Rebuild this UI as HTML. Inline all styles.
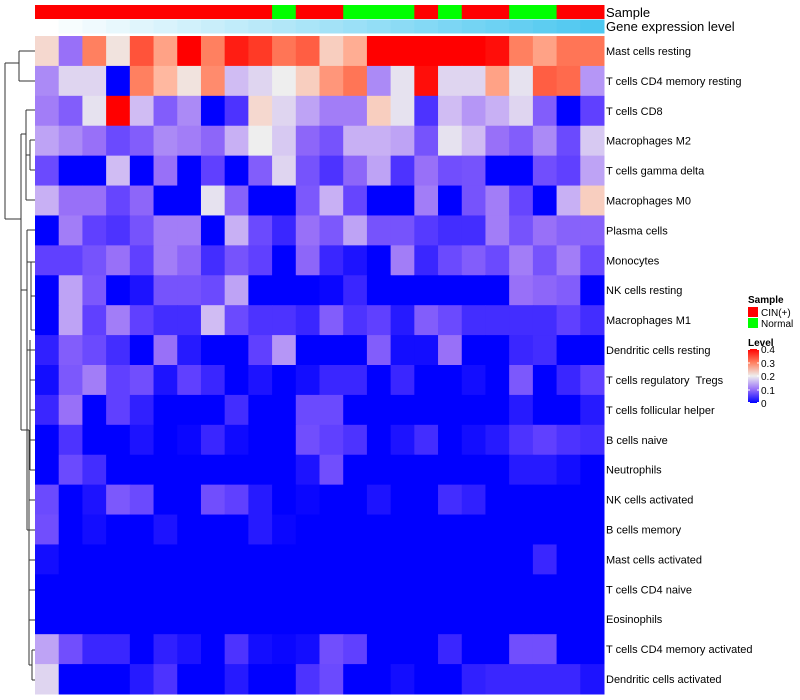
<!DOCTYPE html>
<html><head><meta charset="utf-8"><style>
body{margin:0;background:#fff;font-family:"Liberation Sans",sans-serif}
svg{display:block}
#labels text{white-space:pre}
</style></head><body>
<svg id="chart" width="800" height="700" xmlns="http://www.w3.org/2000/svg">
<g id="dendro" stroke="#333" stroke-width="1" fill="none">
<path d="M5,63V219M5,63H19M19,51V81M19,51H35M19,81H35M5,219H21M21,134V430"/>
<path d="M21,134H26M26,110V200M26,110H35M26,155H30M30,140V170M30,140H35M30,170H35M26,200H35"/>
<path d="M21,290H27M27,230V530M27,230H35M27,262H31M31,262V330M31,262H35M31,296H35M31,330H35"/>
<path d="M27,350H30M30,340V470M30,350H35M30,380H35M30,410H35M30,440H35M30,470H35"/>
<path d="M27,530H29M29,500V620M29,500H35M29,530H35M29,560H35M29,590H35M29,620H35"/>
<path d="M21,430H29M29,430V665M29,665H32M32,650V680M32,650H35M32,680H35"/>
</g>
<g id="cells"></g>
<g id="labels" font-size="11" fill="#000"></g>
<text x="606" y="17" font-size="13">Sample</text>
<text x="606" y="31" font-size="13">Gene expression level</text>
<g font-size="10">
<text x="748" y="303" font-weight="bold">Sample</text>
<rect x="748" y="307" width="10" height="10" fill="#ff0000"/>
<text x="761" y="316">CIN(+)</text>
<rect x="748" y="318" width="10" height="10" fill="#00ff00"/>
<text x="761" y="327">Normal</text>
<text x="748" y="346" font-weight="bold">Level</text>
<defs><linearGradient id="lg" x1="0" y1="1" x2="0" y2="0">
<stop offset="0" stop-color="#0000ff"/><stop offset="0.25" stop-color="#9870f8"/><stop offset="0.5" stop-color="#eeeeee"/><stop offset="0.75" stop-color="#ff8060"/><stop offset="1" stop-color="#ff0000"/></linearGradient></defs>
<rect x="748" y="349" width="11" height="54" fill="url(#lg)"/>
<g stroke="#fff" stroke-width="1"><path d="M748,349.5h2M757,349.5h2M748,363h2M757,363h2M748,376h2M757,376h2M748,390h2M757,390h2M748,402.5h2M757,402.5h2"/></g>
<text x="761" y="353">0.4</text>
<text x="761" y="380">0.2</text>
<text x="761" y="367">0.3</text>
<text x="761" y="394">0.1</text>
<text x="761" y="407">0</text>
</g>
</svg>
<script>
const rowNames=["Mast cells resting","T cells CD4 memory resting","T cells CD8","Macrophages M2","T cells gamma delta","Macrophages M0","Plasma cells","Monocytes","NK cells resting","Macrophages M1","Dendritic cells resting","T cells regulatory  Tregs","T cells follicular helper","B cells naive","Neutrophils","NK cells activated","B cells memory","Mast cells activated","T cells CD4 naive","Eosinophils","T cells CD4 memory activated","Dendritic cells activated"];
const sampleGroups=["CIN","CIN","CIN","CIN","CIN","CIN","CIN","CIN","CIN","CIN","N","CIN","CIN","N","N","N","CIN","N","CIN","CIN","N","N","CIN","CIN"];
const geneLevel=[0,1,2,3,4,5,6,7,8,9,10,11,12,13,14,15,16,17,18,19,20,21,22,23];
const r1=[0.22,0.1,0.3,0.21,0.34,0.27,0.4,0.3,0.38,0.36,0.31,0.33,0.23,0.26,0.4,0.4,0.4,0.4,0.4,0.39,0.3,0.27,0.31,0.31];
const r2=[0.12,0.18,0.18,0,0.3,0.25,0.21,0.29,0.16,0.18,0.2,0.23,0.28,0.31,0.12,0.19,0.39,0.18,0.18,0.27,0.19,0.33,0.32,0.13];
const r3=[0.11,0.08,0.19,0.4,0.16,0.08,0.12,0,0.04,0.22,0.18,0.14,0.11,0.11,0.23,0.19,0.04,0.16,0.13,0.15,0.18,0.08,0,0.05];
const r4=[0.14,0.12,0.1,0.06,0.08,0.12,0.11,0.09,0.15,0.2,0.17,0.09,0.07,0.15,0.15,0.14,0.07,0.19,0.16,0.1,0.08,0.12,0.06,0.17];
const r5=[0.06,0,0,0.16,0,0.1,0,0.05,0,0.08,0.18,0.07,0.04,0.09,0.14,0.04,0.1,0.065,0.07,0,0,0.065,0.05,0.14];
const r6=[0.15,0.1,0.1,0.055,0.09,0,0,0.19,0.085,0,0,0.075,0.15,0.055,0,0,0.11,0,0.07,0.11,0.055,0,0.15,0.23];
const r7=[0,0.11,0.05,0.04,0.07,0.11,0.11,0,0.15,0.06,0.03,0.1,0.075,0.14,0.07,0.07,0.045,0.035,0.035,0.11,0.07,0.1,0.085,0.085];
const r8=[0.05,0.05,0.07,0.1,0.05,0.11,0.09,0.035,0.07,0.05,0,0.09,0.03,0.015,0,0.11,0.03,0.06,0.08,0.06,0.11,0.07,0.11,0.06];
const r9=[0,0.14,0.075,0,0.015,0.07,0.07,0.06,0.14,0,0,0,0.005,0.03,0,0,0,0,0,0,0.1,0.09,0.08,0];
const r10=[0,0.14,0.05,0.11,0.05,0.035,0.035,0.16,0.06,0.04,0.04,0.03,0.08,0.04,0.05,0.02,0.08,0.06,0.035,0.035,0.035,0.035,0.05,0.035];
const r11=[0.025,0.08,0.06,0.035,0,0.1,0.02,0,0,0.05,0.13,0,0,0,0.08,0.01,0.01,0.1,0,0,0.03,0.035,0,0];
const r12=[0.01,0.075,0.11,0.05,0.065,0.015,0.05,0.03,0,0.015,0,0.01,0.03,0.03,0,0.03,0,0,0.01,0,0.075,0,0.03,0.05];
const r13=[0.03,0.1,0,0.05,0.025,0,0,0,0.035,0,0,0.06,0.06,0,0,0,0,0,0,0,0.02,0,0,0.02];
const r14=[0,0.04,0,0,0.015,0,0.005,0.03,0.008,0,0,0.065,0.05,0.04,0,0.015,0.035,0,0.01,0.02,0.04,0.05,0.04,0.035];
const r15=[0,0.06,0.035,0,0,0,0,0,0,0,0,0.015,0.065,0,0,0,0,0,0,0,0.02,0.02,0.01,0];
const r16=[0.06,0,0.015,0.075,0.06,0,0,0.065,0.05,0.02,0,0.005,0,0,0.015,0,0,0.035,0.025,0,0,0,0,0];
const r17=[0.065,0,0.01,0,0,0.015,0,0,0,0.02,0.005,0,0,0,0,0,0,0,0,0,0,0,0,0];
const r18=[0.01,0,0,0,0,0,0,0,0,0,0,0,0,0,0,0,0,0,0,0,0,0.03,0,0];
const r19=[0,0,0,0,0,0,0,0,0,0,0,0,0,0,0,0,0,0,0,0,0,0,0,0];
const r20=[0,0,0,0,0,0,0,0,0,0,0,0,0,0,0,0,0,0,0,0,0,0,0,0];
const r21=[0.14,0.065,0.03,0.03,0,0.025,0.015,0,0.04,0.01,0.005,0.01,0.065,0.05,0,0,0,0.03,0,0,0.065,0.065,0,0];
const r22=[0.18,0,0,0,0.02,0.04,0,0,0.02,0,0,0.04,0.06,0,0,0.01,0,0,0.025,0.03,0.03,0.03,0.03,0.015];
const values=[r1,r2,r3,r4,r5,r6,r7,r8,r9,r10,r11,r12,r13,r14,r15,r16,r17,r18,r19,r20,r21,r22];

const X0=35,X1=604,Y0=36,Y1=694;
const nC=sampleGroups.length,nR=rowNames.length;
const cw=(X1-X0)/nC,rh=(Y1-Y0)/nR;
const xPos=i=>X0+i*cw, yPos=j=>Y0+j*rh;
const stops=[[0,[0,0,255]],[0.05,[96,64,255]],[0.1,[152,112,248]],[0.15,[200,176,244]],[0.2,[238,238,238]],[0.25,[255,184,160]],[0.3,[255,128,96]],[0.35,[255,72,48]],[0.4,[255,0,0]]];
function colorScale(v){v=Math.max(0,Math.min(0.4,v));
 for(let k=1;k<stops.length;k++){if(v<=stops[k][0]){const a=stops[k-1],b=stops[k],t=(v-a[0])/(b[0]-a[0]);
  return 'rgb('+a[1].map((c,i)=>Math.round(c+(b[1][i]-c)*t)).join(',')+')';}}return 'rgb(255,0,0)';}
const gMax=Math.max(...geneLevel);
function geneColor(v){const t=v/gMax;return 'rgb('+[255+(78-255)*t,255+(200-255)*t,255+(240-255)*t].map(Math.round).join(',')+')';}
const NS='http://www.w3.org/2000/svg';
const cells=document.getElementById('cells'),labels=document.getElementById('labels');
function mk(tag,attrs,parent){const e=document.createElementNS(NS,tag);for(const k in attrs)e.setAttribute(k,attrs[k]);parent.appendChild(e);return e;}
for(let i=0;i<nC;i++){
 const s=mk('rect',{x:xPos(i),y:5,width:cw+0.5,height:14,fill:sampleGroups[i]==='N'?'#00ff00':'#ff0000'},cells);
 
 
 const g=mk('rect',{x:xPos(i),y:19.5,width:cw+0.5,height:14,fill:geneColor(geneLevel[i])},cells);
 
 
}
for(let j=0;j<nR;j++){
 for(let i=0;i<nC;i++){
  const r=mk('rect',{x:xPos(i),y:yPos(j),width:cw+0.5,height:rh+0.5,fill:colorScale(values[j][i])},cells);
  
  
 }
 const t=mk('text',{x:606,y:yPos(j)+rh/2+4},labels);
 t.textContent=rowNames[j];
 
 
}
</script>
</body></html>
